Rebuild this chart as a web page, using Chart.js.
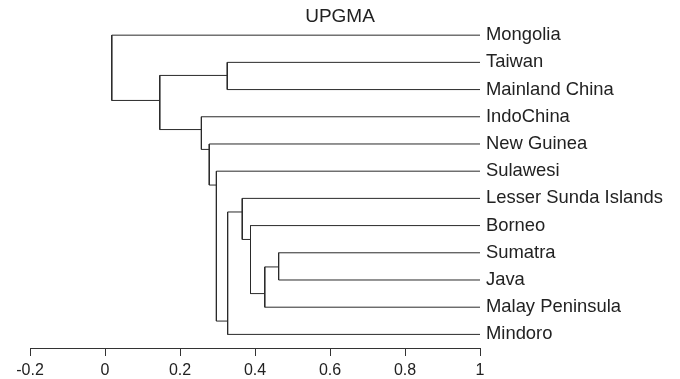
<!DOCTYPE html>
<html>
<head>
<meta charset="utf-8">
<title>UPGMA</title>
<script src="https://cdn.jsdelivr.net/npm/chart.js@4"></script>
<style>
  html, body { margin: 0; padding: 0; background: #fff; }
  #wrap { width: 680px; height: 379px; }
</style>
</head>
<body>
<div id="wrap"><canvas id="tree"></canvas></div>
<script>
/* ── Data ──────────────────────────────────────────────── */
const leafNames = [
  'Mongolia', 'Taiwan', 'Mainland China', 'IndoChina', 'New Guinea', 'Sulawesi',
  'Lesser Sunda Islands', 'Borneo', 'Sumatra', 'Java', 'Malay Peninsula', 'Mindoro'
];
const leafLevel = 1;

// merges: children are leaf index (0..11) or 12 + merge index
const mergeLeft  = [8, 12, 7, 6, 15, 5, 4, 3, 1, 20, 0];
const mergeRight = [9, 10, 13, 14, 11, 16, 17, 18, 2, 19, 21];
const mergeLevel = [0.463, 0.426, 0.388, 0.366, 0.327, 0.297, 0.278, 0.257, 0.326, 0.146, 0.018];
const mergeRow   = [8.52, 9.5, 7.51, 6.5, 10.51, 5.51, 4.2, 3.47, 1.48, 2.4, null];

const xTicks = [-0.2, 0, 0.2, 0.4, 0.6, 0.8, 1];

/* ── Build bracket datasets ───────────────────────────── */
const nodeLevel = id => id < leafNames.length ? leafLevel : mergeLevel[id - leafNames.length];
const nodeRow   = id => id < leafNames.length ? id : mergeRow[id - leafNames.length];

const datasets = mergeLevel.map((lvl, i) => {
  const a = mergeLeft[i], b = mergeRight[i];
  return {
    data: [
      { x: nodeLevel(a), y: nodeRow(a) },
      { x: lvl, y: nodeRow(a) },
      { x: lvl, y: nodeRow(b) },
      { x: nodeLevel(b), y: nodeRow(b) }
    ],
    xAxisID: 'x',
    yAxisID: 'y',
    showLine: true,
    borderColor: '#2a2a2a',
    borderWidth: 1,
    pointRadius: 0,
    tension: 0,
    fill: false
  };
});

/* ── Chart ─────────────────────────────────────────────── */
const font = 'Liberation Sans, Arial, Helvetica, sans-serif';

new Chart(document.getElementById('tree'), {
  type: 'scatter',
  data: { datasets },
  options: {
    responsive: true,
    maintainAspectRatio: false,
    animation: false,
    layout: { padding: 0 },
    plugins: {
      legend: { display: false },
      tooltip: { enabled: false },
      title: {
        display: true,
        text: 'UPGMA',
        color: '#222',
        font: { family: font, size: 19, weight: 'normal', lineHeight: 1 },
        padding: { top: 7, bottom: 1 }
      }
    },
    scales: {
      x: {
        type: 'linear',
        min: -0.2,
        max: 1,
        afterBuildTicks: s => { s.ticks = xTicks.map(v => ({ value: v })); },
        afterFit: s => { s.height = 31; },
        grid: { drawOnChartArea: false, drawTicks: true, tickLength: 8, color: '#333' },
        border: { display: true, color: '#333', width: 1 },
        ticks: {
          color: '#222',
          padding: 5,
          maxRotation: 0,
          font: { family: font, size: 16 },
          callback: v => String(v)
        }
      },
      y: {
        type: 'linear',
        position: 'right',
        reverse: true,
        min: -0.3,
        max: 11.5,
        afterBuildTicks: s => { s.ticks = leafNames.map((_, i) => ({ value: i })); },
        afterFit: s => { s.width = 200; },
        grid: { display: false, drawTicks: false },
        border: { display: false },
        ticks: {
          color: '#222',
          padding: 6,
          font: { family: font, size: 18.4 },
          callback: v => leafNames[v] ?? ''
        }
      },
      // empty spacer on the left so the plot starts at x = -0.2 ≈ 30px
      spacer: {
        type: 'linear',
        position: 'left',
        display: true,
        afterFit: s => { s.width = 30; },
        grid: { display: false },
        border: { display: false },
        ticks: { display: false }
      }
    }
  }
});
</script>
</body>
</html>
